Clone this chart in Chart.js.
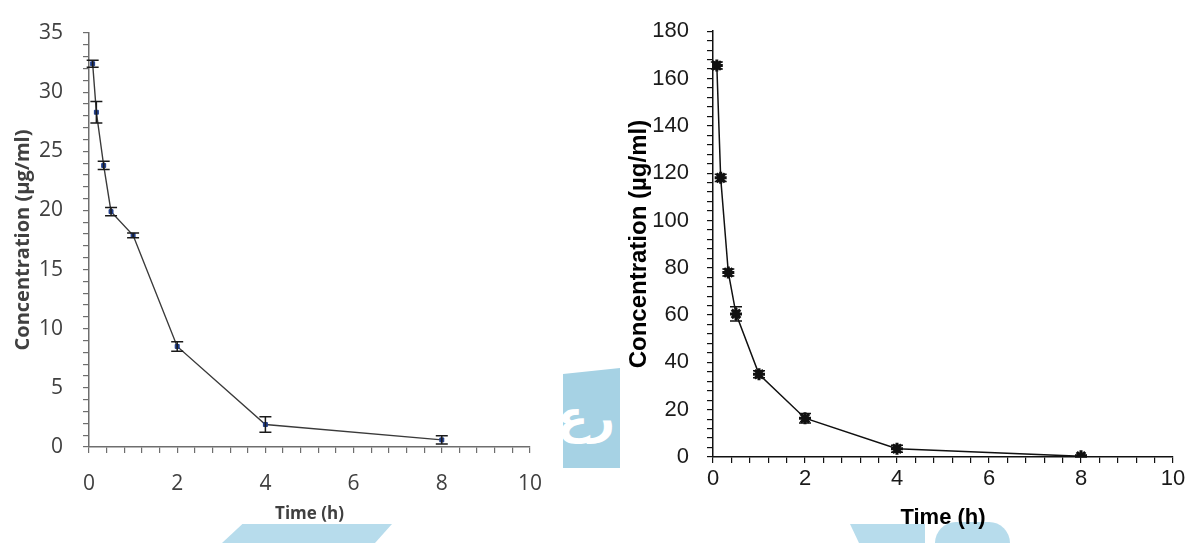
<!DOCTYPE html>
<html>
<head>
<meta charset="utf-8">
<script src="https://cdn.jsdelivr.net/npm/chart.js@4.4.0/dist/chart.umd.min.js"></script>
<style>
  html, body { margin: 0; padding: 0; background: #fff; }
  body { width: 1190px; height: 543px; position: relative; overflow: hidden; }
  .box { position: absolute; top: 0; height: 543px; }
  #leftBox { left: 0; width: 560px; }
  #rightBox { left: 600px; width: 590px; }
  .mark { position: absolute; background: #a6d2e4; }
  #markMain { left: 563px; top: 368px; width: 57px; height: 100px; overflow: hidden;
    clip-path: polygon(0 6%, 100% 0, 100% 100%, 0 100%); }
  #markMain span { position: absolute; left: -6px; top: 22px; color: #fff; font: bold 46px "DejaVu Sans"; }
  #markA { left: 222px; top: 524px; width: 170px; height: 19px; background: #b7dcec;
    clip-path: polygon(12% 0, 100% 0, 90% 100%, 0 100%); }
  #markB { left: 850px; top: 524px; width: 75px; height: 19px; background: #b7dcec;
    clip-path: polygon(0 0, 100% 0, 100% 100%, 12% 100%); }
  #markC { left: 935px; top: 522px; width: 75px; height: 21px; background: #b7dcec;
    border-radius: 30px 30px 0 0; }
</style>
</head>
<body>
<div class="mark" id="markMain"><span>رع</span></div>
<div class="mark" id="markA"></div>
<div class="mark" id="markB"></div>
<div class="mark" id="markC"></div>
<div class="box" id="leftBox"><canvas id="leftChart"></canvas></div>
<div class="box" id="rightBox"><canvas id="rightChart"></canvas></div>
<script>
// sampling times (h)
var times = [0.083, 0.167, 0.333, 0.5, 1, 2, 4, 8];

// left panel
var leftConc = [32.4, 28.3, 23.8, 19.9, 17.9, 8.5, 1.9, 0.6];
var leftErr = [0.3, 0.9, 0.35, 0.35, 0.2, 0.4, 0.65, 0.35];

// right panel
var rightConc = [165.5, 118, 78, 60.5, 35, 16.4, 3.5, 0.3];
var rightErr = [1.5, 1.5, 1.5, 3, 1.5, 2, 1.5, 0.5];

var xTickLabels = [0, 2, 4, 6, 8, 10];
var leftYLabels = [0, 5, 10, 15, 20, 25, 30, 35];
var rightYLabels = [0, 20, 40, 60, 80, 100, 120, 140, 160, 180];

function toPoints(xs, ys) {
  return xs.map(function (x, i) { return { x: x, y: ys[i] }; });
}

function onlyLabels(list) {
  return function (value) {
    for (var i = 0; i < list.length; i++) {
      if (Math.abs(value - list[i]) < 1e-6) return String(list[i]);
    }
    return '';
  };
}

// vertical error bars with caps
var errorBars = {
  id: 'errorBars',
  afterDatasetsDraw: function (chart) {
    var ctx = chart.ctx;
    var xs = chart.scales.x, ys = chart.scales.y;
    chart.data.datasets.forEach(function (ds) {
      if (!ds.errors) return;
      ctx.save();
      ctx.strokeStyle = ds.errorColor;
      ctx.lineWidth = 1.5;
      ds.data.forEach(function (p, i) {
        var e = ds.errors[i];
        var px = xs.getPixelForValue(p.x);
        var top = ys.getPixelForValue(p.y + e);
        var bot = ys.getPixelForValue(Math.max(p.y - e, 0));
        ctx.beginPath();
        ctx.moveTo(px, top); ctx.lineTo(px, bot);
        ctx.moveTo(px - 6, top); ctx.lineTo(px + 6, top);
        ctx.moveTo(px - 6, bot); ctx.lineTo(px + 6, bot);
        ctx.stroke();
      });
      ctx.restore();
    });
  }
};

function makeChart(id, cfg) {
  return new Chart(document.getElementById(id), {
    type: 'scatter',
    data: {
      datasets: [{
        data: toPoints(times, cfg.values),
        errors: cfg.errors,
        errorColor: cfg.errorColor,
        showLine: true,
        borderColor: cfg.lineColor,
        borderWidth: cfg.lineWidth,
        pointStyle: cfg.pointStyle,
        pointRadius: cfg.pointRadius,
        pointBorderWidth: cfg.pointBorderWidth,
        pointBackgroundColor: cfg.pointColor,
        pointBorderColor: cfg.pointColor,
        tension: 0
      }]
    },
    options: {
      responsive: true,
      maintainAspectRatio: false,
      animation: false,
      events: [],
      layout: { padding: cfg.padding },
      plugins: { legend: { display: false }, tooltip: { enabled: false } },
      scales: {
        x: {
          type: 'linear',
          min: 0,
          max: 10,
          afterFit: function (s) { s.height = cfg.xHeight; },
          grid: { display: true, drawOnChartArea: false, drawTicks: true, tickLength: 6, color: cfg.axisColor, lineWidth: 1.2 },
          border: { display: true, color: cfg.axisColor, width: 1.5 },
          ticks: {
            stepSize: 0.4, autoSkip: false, maxTicksLimit: 100, maxRotation: 0,
            padding: cfg.xTickPad, color: cfg.tickColor, font: cfg.tickFont,
            callback: onlyLabels(xTickLabels)
          },
          title: { display: true, text: 'Time (h)', color: cfg.titleColor, font: cfg.xTitleFont, padding: { top: 0, bottom: cfg.xTitlePad } }
        },
        y: {
          min: 0,
          max: cfg.yMax,
          afterFit: function (s) { s.width = cfg.yWidth; },
          grid: { display: true, drawOnChartArea: false, drawTicks: true, tickLength: 6, color: cfg.axisColor, lineWidth: 1.2 },
          border: { display: true, color: cfg.axisColor, width: 1.5 },
          ticks: {
            stepSize: cfg.yStep, autoSkip: false, maxTicksLimit: 100,
            padding: cfg.yTickPad, color: cfg.tickColor, font: cfg.tickFont,
            callback: onlyLabels(cfg.yLabels)
          },
          title: { display: true, text: 'Concentration (µg/ml)', color: cfg.titleColor, font: cfg.yTitleFont, padding: { top: cfg.yTitlePad, bottom: 0 } }
        }
      }
    },
    plugins: [errorBars]
  });
}

makeChart('leftChart', {
  values: leftConc, errors: leftErr, yMax: 35, yStep: 1, yLabels: leftYLabels,
  lineColor: '#3a3a3a', lineWidth: 1.4, errorColor: '#1a1a1a',
  pointStyle: 'rect', pointRadius: 2.8, pointBorderWidth: 1, pointColor: '#1f3d8a',
  axisColor: '#6e6e6e', tickColor: '#404040', titleColor: '#404040',
  tickFont: { family: 'Open Sans', size: 21 },
  xTitleFont: { family: 'Open Sans', size: 17, weight: 'bold' },
  yTitleFont: { family: 'Open Sans', size: 20, weight: 'bold' },
  padding: { left: 0, top: 33, right: 19, bottom: 0 },
  yWidth: 89, xHeight: 96, xTickPad: 18, yTickPad: 20, xTitlePad: 19, yTitlePad: 11
});

makeChart('rightChart', {
  values: rightConc, errors: rightErr, yMax: 180, yStep: 4, yLabels: rightYLabels,
  lineColor: '#111', lineWidth: 1.5, errorColor: '#111',
  pointStyle: 'star', pointRadius: 6, pointBorderWidth: 3, pointColor: '#111',
  axisColor: '#111', tickColor: '#1a1a1a', titleColor: '#000',
  tickFont: { family: 'Liberation Sans', size: 22 },
  xTitleFont: { family: 'Liberation Sans', size: 22, weight: 'bold' },
  yTitleFont: { family: 'Liberation Sans', size: 24, weight: 'bold' },
  padding: { left: 0, top: 29, right: 17, bottom: 0 },
  yWidth: 113, xHeight: 86, xTickPad: 3, yTickPad: 18, xTitlePad: 12, yTitlePad: 25
});
</script>
</body>
</html>
